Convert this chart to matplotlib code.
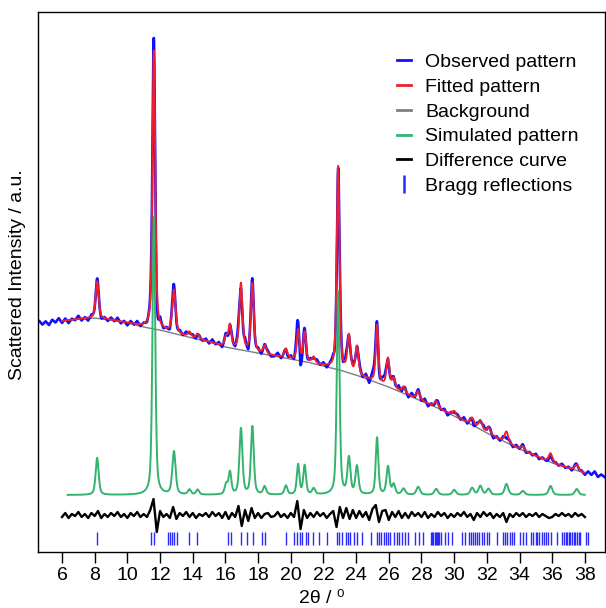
import numpy as np
import matplotlib
matplotlib.use("Agg")
import matplotlib.pyplot as plt
from matplotlib.lines import Line2D

plt.rcParams["font.family"] = ["Liberation Sans", "DejaVu Sans"]

# background (2theta, intensity)
bg_tt = [4.5, 6, 7, 8, 9, 10, 11, 12, 13, 14, 15, 16, 17, 18, 19, 20, 21, 22,
         23, 24, 25, 26, 27, 28, 29, 30, 31, 32, 33, 34, 35, 36, 37, 38, 39.2]
bg_int = [229, 231, 233, 234, 232, 229, 225, 222, 218, 214, 210, 205, 202, 199,
          196, 193, 190, 186, 182, 177, 171, 165, 158, 151, 144, 136, 128, 119,
          111, 103, 96, 89, 84, 79, 76]

# reflections seen in the simulated pattern: position, height, fwhm
peak_pos = [8.15, 11.62, 12.85, 13.8, 14.3, 16.05, 16.28, 16.95, 17.65, 18.4,
            19.7, 20.45, 20.85, 21.4, 22.9, 23.56, 24.05, 25.28, 25.95, 26.3,
            26.9, 27.8, 28.9, 30.0, 31.1, 31.6, 32.1, 33.2, 34.2, 35.9, 37.5]
peak_h = [37, 278, 43, 5, 5, 10, 22, 66, 68, 8,
          9, 30, 29, 6, 203, 36, 28, 57, 28, 10,
          6, 8, 6, 5, 7, 9, 6, 11, 4, 9, 6]
peak_w = [0.22, 0.2, 0.24, 0.22, 0.22, 0.22, 0.2, 0.22, 0.21, 0.22,
          0.22, 0.19, 0.2, 0.22, 0.2, 0.22, 0.22, 0.19, 0.22, 0.22,
          0.26, 0.26, 0.26, 0.26, 0.26, 0.26, 0.26, 0.26, 0.26, 0.26, 0.26]

# obs - calc, every 0.2 deg from 4.6 to 39.2
resid_tt = np.round(np.arange(4.6, 39.21, 0.2), 2)
resid = [2, -2,
         1, -3, 2, -1, 3,
         -2, 2, -3, 1, -1,
         3, -2, 1, -3, 2,
         -1, 4, -3, 1, -2,
         2, -1, 3, -2, 1,
         -3, 2, -1, 3, -2,
         1, -2, 5, 16, -17,
         4, -2, 1, -3, 8,
         -4, 2, -1, 3, -2,
         2, -3, 1, -1, 2,
         -2, 3, -1, 2, -3,
         3, -4, 2, -2, 9,
         -11, 5, -6, 7, -3,
         2, -3, 1, 2, -2,
         -1, 3, -2, 1, -3,
         2, -2, 14, -14, 5,
         -3, 2, -2, 3, -1,
         2, -3, 1, 4, -12,
         8, -3, 7, -4, 5,
         -3, 4, -2, 3, -5,
         6, 10, -7, 4, 5,
         -5, 3, -2, 4, -3,
         2, -3, 3, -1, 2,
         -2, 3, -3, 1, -2,
         3, -1, 2, -3, 1,
         -2, 2, -1, 3, -2,
         1, -5, 2, -2, 3,
         -1, 2, -3, 1, -2,
         2, -7, 1, -2, 2,
         -1, 2, -2, 1, -1,
         2, -2, 1, -1, -3,
         -2, 1, -1, 2, -1,
         1, -2, 2, -1, 1,
         -2, 2, -1, 3, -2,
         1, -1]

bragg = [8.12, 11.43, 11.62, 12.50, 12.62, 12.75, 12.88, 13.02, 13.80, 14.27,
         16.16, 16.35, 16.94, 17.35, 17.70, 18.22, 18.43,
         19.71, 20.19, 20.37, 20.54, 20.67, 20.93, 21.08, 21.38, 21.75, 22.20,
         22.83, 22.98, 23.15, 23.35, 23.50, 23.62, 23.85, 24.05, 24.33,
         24.92, 25.27, 25.40, 25.55, 25.70, 25.82, 25.95, 26.10, 26.30, 26.50,
         26.62, 26.80, 27.00, 27.16, 27.63, 27.87, 28.11,
         28.58, 28.65, 28.72, 28.80, 28.88, 28.95, 29.03, 29.10, 29.17,
         29.41, 29.65, 29.88, 30.47, 30.66,
         30.93, 31.05, 31.18, 31.30, 31.42, 31.55, 31.70, 31.85, 32.00, 32.13,
         32.60, 32.96, 33.10, 33.25, 33.40, 33.55, 33.67, 34.02, 34.20, 34.38,
         34.73, 34.85, 34.98, 35.10, 35.22, 35.35, 35.48, 35.62, 35.75, 35.91,
         36.27, 36.62, 36.72, 36.82, 36.92, 37.02, 37.12, 37.22, 37.32, 37.42,
         37.52, 37.62, 37.69, 38.05, 38.20]

sim_base = 57
diff_base = 37


def peaks(x):
    y = np.zeros_like(x)
    for p, h, w in zip(peak_pos, peak_h, peak_w):
        d = 4 * (x - p) ** 2 / w ** 2
        y += h * (0.5 / (1 + d) + 0.5 * np.exp(-np.log(2) * d))
    return y


x_obs = np.arange(4.55, 39.2, 0.01)
x_fit = np.arange(6.0, 38.0, 0.01)
x_sim = np.arange(6.35, 38.0, 0.01)

bg = np.interp(x_fit, bg_tt, bg_int)
fit = bg + peaks(x_fit)
obs = np.interp(x_obs, bg_tt, bg_int) + peaks(x_obs) + np.interp(x_obs, resid_tt, resid)
sim = sim_base + peaks(x_sim)
sel = (resid_tt >= 6.0) & (resid_tt <= 38.05)

fig = plt.figure(figsize=(6.06, 6.08), dpi=100)
ax = fig.add_axes([0.0627, 0.0921, 0.9356, 0.888])

ax.plot(x_fit, bg, color="#7f7f7f", lw=1.0)
ax.plot(x_obs, obs, color="#1010ff", lw=1.9)
ax.plot(x_fit, fit, color="#ee2030", lw=1.4)
ax.plot(x_sim, sim, color="#33b36e", lw=1.4)
ax.plot(resid_tt[sel], diff_base + np.array(resid)[sel], color="black", lw=1.7)
ax.vlines(bragg, 7, 20, color="#2a2aff", lw=1.0)

ax.set_xlim(4.53, 39.23)
ax.set_ylim(0, 540)
ax.set_xticks(range(6, 39, 2))
ax.set_yticks([])
ax.tick_params(axis="x", direction="out", length=8, width=1, labelsize=14, pad=3)
for s in ax.spines.values():
    s.set_linewidth(1.0)

ax.set_xlabel("2θ / ⁰", fontsize=14, labelpad=4)
ax.set_ylabel("Scattered Intensity / a.u.", fontsize=14)
ax.yaxis.set_label_coords(-0.022, 0.513)

handles = [
    Line2D([], [], color="#1010ff", lw=2),
    Line2D([], [], color="#ee2030", lw=2),
    Line2D([], [], color="#7f7f7f", lw=2),
    Line2D([], [], color="#33b36e", lw=2),
    Line2D([], [], color="black", lw=2),
    Line2D([], [], color="#2a2aff", marker="|", ls="None", markersize=13, mew=1.8),
]
labels = ["Observed pattern", "Fitted pattern", "Background",
          "Simulated pattern", "Difference curve", "Bragg reflections"]
ax.legend(handles, labels, loc="upper left", bbox_to_anchor=(0.62, 0.938),
          frameon=False, fontsize=14, handlelength=0.72, handletextpad=0.72,
          labelspacing=0.37, borderaxespad=0)

fig.savefig("out.png", dpi=100)
